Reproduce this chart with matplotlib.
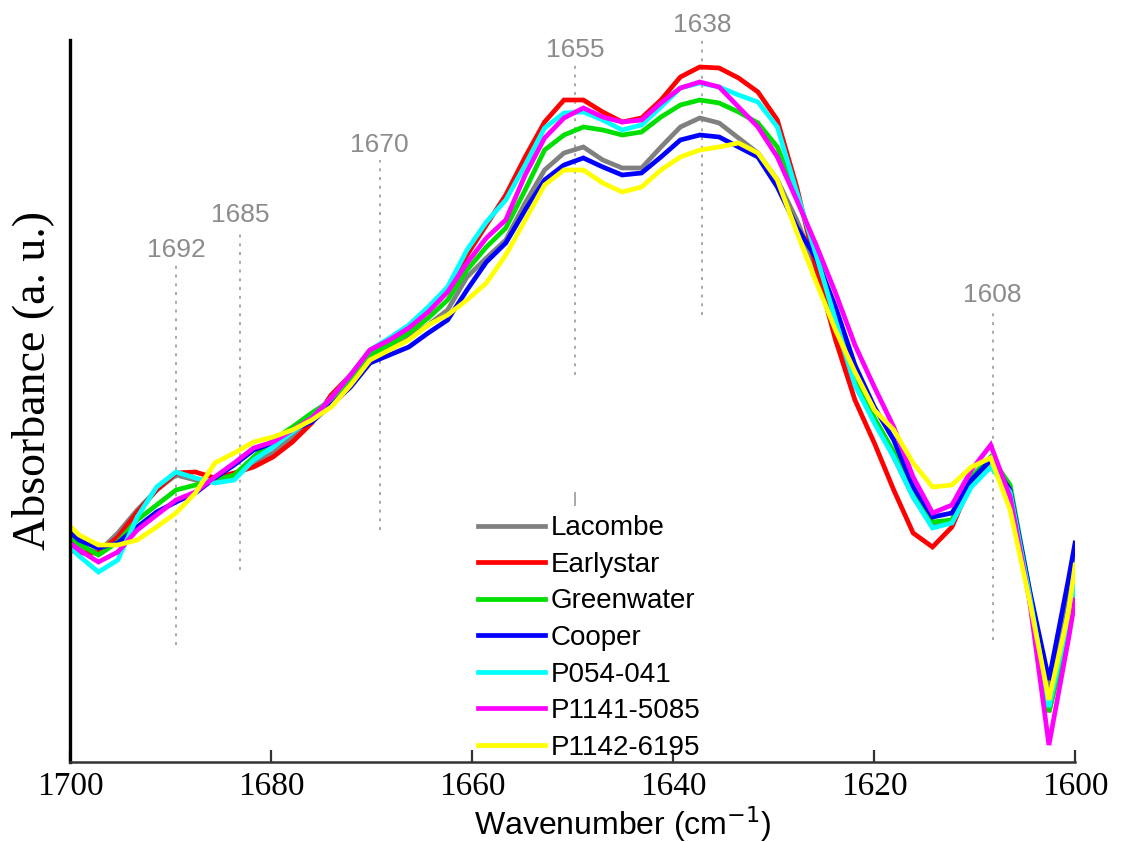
import matplotlib
matplotlib.use('Agg')
import matplotlib.pyplot as plt

# wavenumber grid (cm-1), ~1.93 cm-1 sampling
wavenumber = [1700.00, 1699.10, 1697.17, 1695.24, 1693.31, 1691.38, 1689.45, 1687.52,
              1685.59, 1683.66, 1681.73, 1679.80, 1677.87, 1675.94, 1674.01, 1672.08,
              1670.15, 1668.22, 1666.29, 1664.36, 1662.43, 1660.50, 1658.57, 1656.64,
              1654.71, 1652.78, 1650.85, 1648.92, 1646.99, 1645.06, 1643.13, 1641.20,
              1639.27, 1637.34, 1635.41, 1633.48, 1631.55, 1629.62, 1627.69, 1625.76,
              1623.83, 1621.90, 1619.97, 1618.04, 1616.11, 1614.18, 1612.25, 1610.32,
              1608.39, 1606.46, 1604.53, 1602.60, 1600.67, 1600.00]

# absorbance, arbitrary units (x1000)
lacombe = [222, 214, 210, 229, 252, 272, 287, 282, 280, 285, 299, 309, 325, 340, 359, 379,
           405, 415, 425, 437, 452, 485, 504, 522, 559, 592, 609, 615, 602, 594, 594, 615,
           635, 644, 639, 624, 609, 582, 542, 494, 437, 377, 342, 305, 265, 235, 240, 277,
           299, 272, 167, 72, 175, 214]
earlystar = [212, 209, 209, 225, 250, 272, 289, 290, 284, 289, 295, 305, 320, 339, 367, 387,
             412, 422, 434, 452, 472, 507, 537, 567, 605, 640, 662, 662, 650, 640, 644, 662,
             685, 695, 694, 684, 670, 642, 575, 494, 422, 362, 319, 272, 229, 215, 235, 280,
             300, 272, 164, 50, 132, 172]
greenwater = [226, 218, 207, 220, 242, 257, 272, 277, 282, 287, 305, 322, 335, 349, 362, 382,
              407, 417, 429, 444, 462, 492, 515, 534, 572, 612, 627, 635, 632, 627, 630, 645,
              657, 662, 659, 650, 639, 615, 567, 510, 447, 387, 344, 310, 272, 240, 242, 285,
              305, 277, 172, 50, 135, 172]
cooper = [230, 222, 214, 219, 235, 250, 260, 269, 284, 297, 312, 319, 332, 340, 357, 375,
          399, 407, 415, 429, 442, 472, 500, 519, 552, 582, 597, 604, 595, 587, 589, 605,
          622, 627, 625, 615, 605, 575, 535, 504, 455, 397, 355, 322, 275, 245, 249, 282,
          302, 272, 172, 82, 182, 219]
p054_041 = [215, 206, 190, 202, 245, 275, 290, 284, 279, 282, 302, 315, 330, 344, 364, 387,
            412, 424, 437, 455, 475, 512, 540, 562, 597, 634, 649, 650, 642, 632, 637, 655,
            674, 679, 675, 667, 660, 635, 570, 507, 442, 377, 339, 305, 265, 234, 239, 275,
            295, 270, 167, 55, 142, 177]
p1141_5085 = [219, 212, 200, 210, 232, 247, 262, 270, 285, 299, 314, 320, 332, 344, 364, 387,
              412, 422, 434, 450, 470, 499, 524, 542, 587, 624, 644, 654, 645, 640, 642, 659,
              674, 680, 675, 655, 635, 605, 562, 517, 469, 417, 375, 335, 285, 249, 257, 292,
              317, 265, 162, 17, 122, 162]
p1142_6195 = [236, 227, 217, 217, 222, 235, 249, 269, 299, 309, 320, 325, 332, 342, 355, 377,
              402, 412, 422, 437, 447, 462, 479, 507, 542, 577, 592, 592, 579, 570, 575, 592,
              605, 612, 615, 619, 609, 582, 530, 480, 432, 390, 352, 332, 299, 275, 277, 295,
              304, 252, 162, 62, 149, 197]

names = ['Lacombe', 'Earlystar', 'Greenwater', 'Cooper', 'P054-041', 'P1141-5085', 'P1142-6195']
series = [lacombe, earlystar, greenwater, cooper, p054_041, p1141_5085, p1142_6195]
colors = ['#808080', '#ff0000', '#00e000', '#0000ff', '#00ffff', '#ff00ff', '#ffff00']

# band assignments: (label, line x, line bottom, line top, label y)
bands = [('1692', 1689.45, 117, 497, 512),
         ('1685', 1683.1, 192, 532, 547),
         ('1670', 1669.2, 232, 602, 617),
         ('1655', 1649.75, 387, 697, 712),
         ('1638', 1637.1, 447, 722, 737),
         ('1608', 1608.2, 122, 452, 467)]

fig = plt.figure(figsize=(11.25, 8.42), dpi=100)
ax = fig.add_axes([0.0622, 0.095, 0.8934, 0.8575])

for name, ys, c in zip(names, series, colors):
    ax.plot(wavenumber, ys, color=c, lw=3.4, label=name, solid_joinstyle='miter')

for lab, x, y0, y1, ylab in bands:
    ax.plot([x, x], [y0, y1], ls=(0, (1.5, 3)), color='#a8a8a8', lw=1.4, zorder=0)
    ax.text(x, ylab, lab, ha='center', va='center', fontsize=19, color='#8c8c8c',
            family='Liberation Sans', clip_on=False)
ax.plot([1649.75, 1649.75], [257, 269], color='#a8a8a8', lw=1.4, zorder=0)

ax.set_xlim(1700, 1600)
ax.set_ylim(0, 722)
ax.set_xticks([1700, 1680, 1660, 1640, 1620, 1600])
ax.set_yticks([])
for s in ['top', 'right']:
    ax.spines[s].set_visible(False)
ax.spines['left'].set_linewidth(2.4)
ax.spines['left'].set_color('black')
ax.spines['bottom'].set_linewidth(1.8)
ax.spines['bottom'].set_color('#333333')
ax.tick_params(axis='x', direction='in', length=9, width=1.6, color='#333333', pad=7)
for t in ax.get_xticklabels():
    t.set_family('Liberation Serif')
    t.set_fontsize(24)

ax.set_xlabel('Wavenumber (cm$^{-1}$)', fontsize=23, family='Liberation Sans')
ax.xaxis.set_label_coords(0.55, -0.058)
ax.set_ylabel('Absorbance (a. u.)', fontsize=33, family='Liberation Serif')
ax.yaxis.set_label_coords(-0.016, 0.528)

leg = ax.legend(loc='upper left', bbox_to_anchor=(0.395, 0.357), frameon=False,
                prop={'family': 'Liberation Sans', 'size': 20}, handlelength=2.4,
                handletextpad=0.2, labelspacing=0.38, borderaxespad=0)

fig.savefig('out.png', dpi=100, facecolor='white')
